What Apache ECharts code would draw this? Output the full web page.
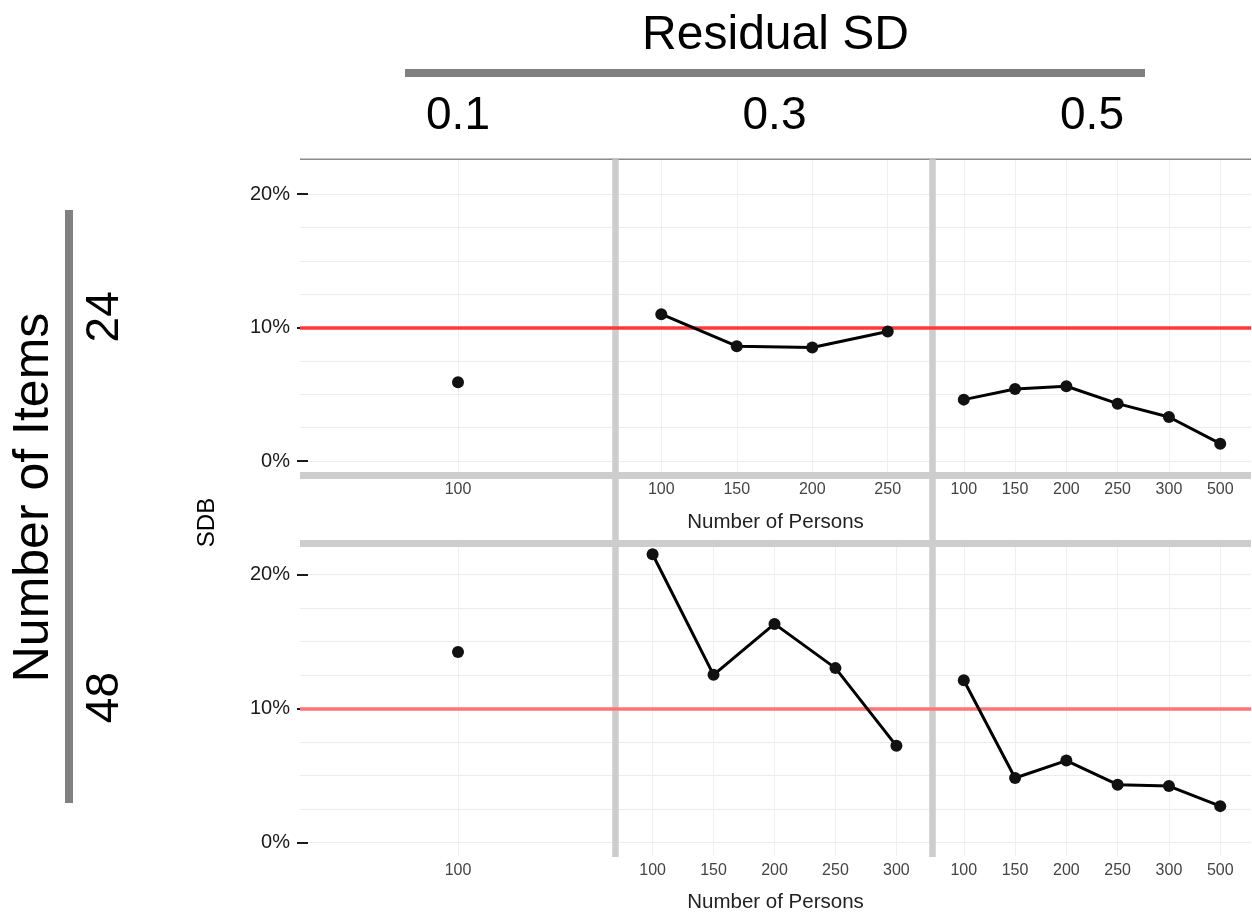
<!DOCTYPE html>
<html><head><meta charset="utf-8">
<script src="https://cdn.jsdelivr.net/npm/echarts@6/dist/echarts.min.js"></script>
<style>html,body{margin:0;padding:0;background:#fff}#c{width:1252px;height:924px}</style>
</head><body><div id="c"></div>
<script>
// ---- data ----
const residualSD = ['0.1', '0.3', '0.5'];
const numItems = ['24', '48'];
const personsItems24 = [['100'], ['100', '150', '200', '250'], ['100', '150', '200', '250', '300', '500']];
const personsItems48 = [['100'], ['100', '150', '200', '250', '300'], ['100', '150', '200', '250', '300', '500']];
const sdbItems24 = [[5.9], [11.0, 8.6, 8.5, 9.7], [4.6, 5.4, 5.6, 4.3, 3.3, 1.3]];
const sdbItems48 = [[14.2], [21.5, 12.5, 16.3, 13.0, 7.2], [12.1, 4.8, 6.1, 4.3, 4.2, 2.7]];
const yTickValues = [0, 10, 20];
const yGridValues = [0, 2.5, 5, 7.5, 10, 12.5, 15, 17.5, 20];
const threshold = 10;
const yMin = -1.0, yMax = 22.6;

// ---- layout ----
const FONT = '"Liberation Sans", Arial, Helvetica, sans-serif';
const colX = [300, 616, 933, 1251];
const rowY = [[159.3, 474.4], [539.5, 855.7]];
const redCols = ['#ff3838', '#ff7474'];
const persons = [personsItems24, personsItems48];
const values = [sdbItems24, sdbItems48];

const grids = [], xAxes = [], yAxes = [], series = [];
for (let r = 0; r < 2; r++) {
  for (let c = 0; c < 3; c++) {
    const gi = grids.length;
    const cats = persons[r][c];
    const idx = cats.map((_, k) => k);
    grids.push({
      left: colX[c], width: colX[c + 1] - colX[c],
      top: rowY[r][0], height: rowY[r][1] - rowY[r][0],
      containLabel: false, outerBoundsMode: 'none'
    });
    xAxes.push({
      type: 'value', gridIndex: gi, min: -0.6, max: cats.length - 0.4, position: 'bottom',
      axisLine: { show: false, onZero: false },
      axisTick: { show: false, customValues: idx },
      axisLabel: {
        customValues: idx, formatter: v => cats[Math.round(v)],
        fontSize: 16, color: '#444', fontFamily: FONT, margin: 7,
        showMinLabel: true, showMaxLabel: true, hideOverlap: false
      },
      splitLine: { show: true, lineStyle: { color: '#efefef', width: 1 } }
    });
    // primary y axis (ticks + labels)
    yAxes.push({
      type: 'value', gridIndex: gi, min: yMin, max: yMax, position: 'left', offset: 3,
      axisLine: { show: false, onZero: false },
      axisTick: { show: c === 0, inside: true, length: 11, customValues: yTickValues,
        lineStyle: { color: '#1a1a1a', width: 2 } },
      axisLabel: { show: c === 0, customValues: yTickValues, formatter: v => v + '%',
        fontSize: 20, color: '#1a1a1a', fontFamily: FONT, margin: 7 },
      splitLine: { show: false }
    });
    // secondary y axis (grid lines only)
    yAxes.push({
      type: 'value', gridIndex: gi, min: yMin, max: yMax, position: 'left',
      axisLine: { show: false, onZero: false },
      axisTick: { show: false, customValues: yGridValues },
      axisLabel: { show: false },
      splitLine: { show: true, lineStyle: { color: '#ececec', width: 1 } }
    });
    series.push({
      type: 'line', xAxisIndex: gi, yAxisIndex: gi * 2,
      data: values[r][c].map((v, k) => [k, v]),
      symbol: 'circle', symbolSize: 12, clip: false, z: 4,
      itemStyle: { color: '#111' },
      lineStyle: { color: '#000', width: 3 },
      animation: false, silent: true,
      markLine: {
        silent: true, symbol: 'none', z: 3, animation: false,
        label: { show: false },
        lineStyle: { color: redCols[r], width: 3.5, type: 'solid' },
        data: [{ yAxis: threshold }]
      }
    });
  }
}

const G = [];
const band = '#cdcdcd';
// top thin line
G.push({ type: 'line', z: 2, shape: { x1: colX[0], y1: rowY[0][0], x2: colX[3], y2: rowY[0][0] },
  style: { stroke: '#8a8a8a', lineWidth: 1.5 } });
// horizontal bands
G.push({ type: 'line', z: 2, shape: { x1: colX[0], y1: 475.5, x2: colX[3], y2: 475.5 },
  style: { stroke: band, lineWidth: 7 } });
G.push({ type: 'line', z: 2, shape: { x1: colX[0], y1: 543.5, x2: colX[3], y2: 543.5 },
  style: { stroke: band, lineWidth: 7 } });
// vertical bands
[colX[1], colX[2]].forEach(x => {
  G.push({ type: 'line', z: 2, shape: { x1: x - 0.5, y1: rowY[0][0], x2: x - 0.5, y2: 857 },
    style: { stroke: band, lineWidth: 6.5 } });
});
// strip header
const mid = (colX[0] + colX[3]) / 2;
G.push({ type: 'text', z: 5, x: mid, y: 36, style: { text: 'Residual SD', font: '48px ' + FONT,
  fill: '#000', align: 'center', verticalAlign: 'middle' } });
G.push({ type: 'line', z: 5, shape: { x1: 405, y1: 73, x2: 1145, y2: 73 },
  style: { stroke: '#808080', lineWidth: 8 } });
residualSD.forEach((t, c) => {
  G.push({ type: 'text', z: 5, x: (colX[c] + colX[c + 1]) / 2, y: 116, style: { text: t,
    font: '46px ' + FONT, fill: '#000', align: 'center', verticalAlign: 'middle' } });
});
// left strip
const rowMid = (rowY[0][0] + rowY[1][1]) / 2;
G.push({ type: 'text', z: 5, x: 34, y: rowMid - 10, rotation: Math.PI / 2, style: { text: 'Number of Items',
  font: '50px ' + FONT, fill: '#000', align: 'center', verticalAlign: 'middle' } });
G.push({ type: 'line', z: 5, shape: { x1: 69, y1: 210, x2: 69, y2: 803 },
  style: { stroke: '#808080', lineWidth: 8 } });
numItems.forEach((t, r) => {
  G.push({ type: 'text', z: 5, x: 105, y: (rowY[r][0] + rowY[r][1]) / 2, rotation: Math.PI / 2,
    style: { text: t, font: '46px ' + FONT, fill: '#000', align: 'center', verticalAlign: 'middle' } });
});
// axis titles
G.push({ type: 'text', z: 5, x: 207, y: rowMid + 15, rotation: Math.PI / 2, style: { text: 'SDB',
  font: '24px ' + FONT, fill: '#000', align: 'center', verticalAlign: 'middle' } });
[522, 902].forEach(y => {
  G.push({ type: 'text', z: 5, x: mid, y: y, style: { text: 'Number of Persons',
    font: '20.5px ' + FONT, fill: '#222', align: 'center', verticalAlign: 'middle' } });
});

const chart = echarts.init(document.getElementById('c'), null, { renderer: 'canvas' });
chart.setOption({
  animation: false,
  backgroundColor: '#fff',
  grid: grids, xAxis: xAxes, yAxis: yAxes, series: series,
  graphic: { elements: G }
});
</script></body></html>
